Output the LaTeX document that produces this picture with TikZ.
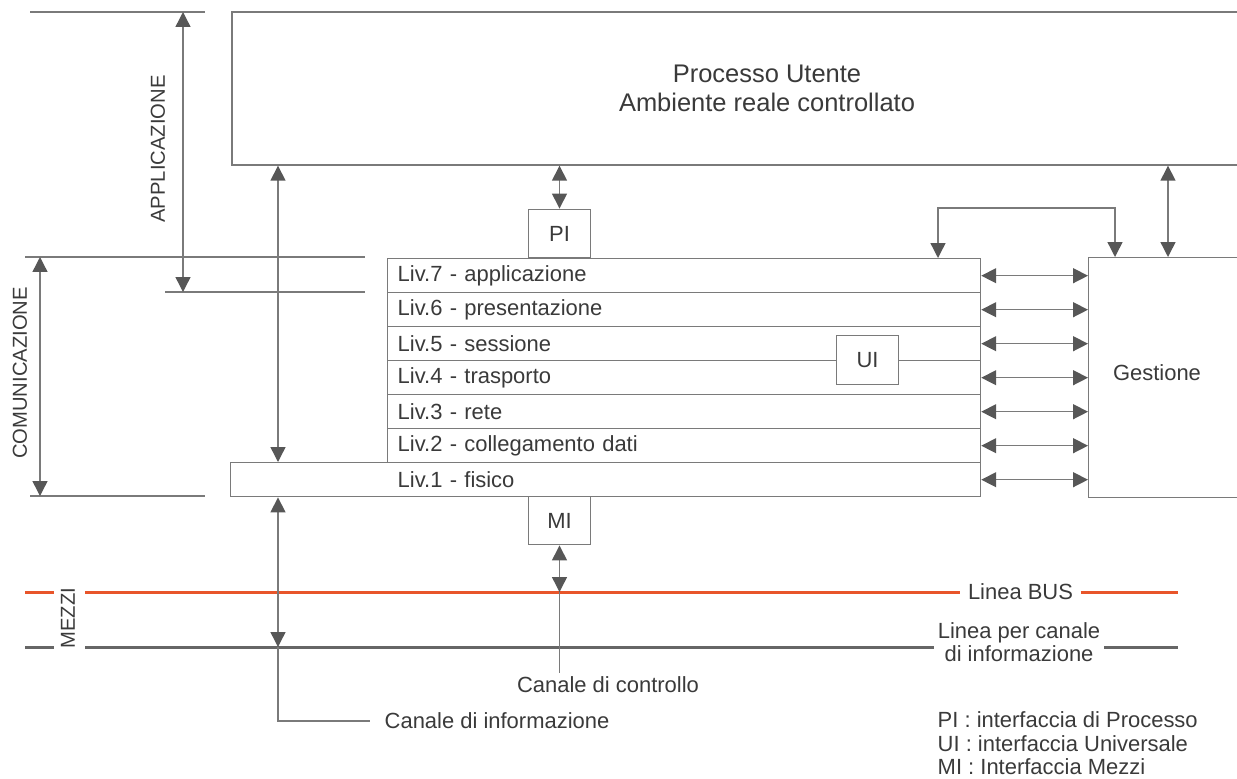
\documentclass[tikz,border=0pt]{standalone}
\usepackage{fontspec}
\setmainfont{Liberation Sans}
\usetikzlibrary{arrows.meta, positioning, calc}
\definecolor{cgrey}{HTML}{7A7A7A}
\definecolor{ctip}{HTML}{575757}
\definecolor{cdark}{HTML}{3A3A3A}
\definecolor{cbus}{HTML}{E8552A}
\definecolor{cline}{HTML}{666666}
\tikzset{
  every picture/.style={line width=0.8pt},
  frame/.style={draw=cgrey, fill=white, inner sep=0pt},
  layer/.style={frame, anchor=north west, minimum height=0.68cm, text width=11.46cm, inner xsep=0.2cm, align=left, font=\fontsize{12.5}{14}\selectfont, text=cdark},
  iface/.style={frame, minimum width=1.24cm, minimum height=0.97cm, font=\fontsize{12.5}{14}\selectfont, text=cdark},
  arrow/.style={{Triangle[length=8.5pt, width=8.5pt, color=ctip]}-{Triangle[length=8.5pt, width=8.5pt, color=ctip]}, draw=cgrey},
  note/.style={font=\fontsize{12.5}{13.3}\selectfont, text=cdark, inner sep=0pt},
  dimlabel/.style={font=\fontsize{11.5}{13}\selectfont, text=cdark, rotate=90, inner sep=0pt},
  medium/.style={line width=1.7pt},
}

\begin{document}
\begin{tikzpicture}[x=0.02cm, y=-0.02cm]
  \useasboundingbox (0,0) rectangle (1237,778);
  \clip (0,0) rectangle (1237,778);
  % user process, open to the right
  \node[frame, minimum width=21.4cm, minimum height=3.06cm, align=center, font=\fontsize{14.5}{16.4}\selectfont, text=cdark] (proc) at (767,88.5) {Processo Utente\\Ambiente reale controllato};
  % management block
  \node[frame, anchor=north west, minimum width=4cm, minimum height=4.8cm] (ges) at (1088,257) {};
  \node[note] (gestxt) at (1157,373) {Gestione};
  % the seven levels
  \node[frame, anchor=north west, minimum width=15cm, minimum height=0.68cm] (fis) at (230,462) {};
  \foreach \n/\t [count=\i from 0] in {7/applicazione, 6/presentazione, 5/sessione, 4/trasporto, 3/rete, 2/collegamento dati}
    \node[layer] (l\n) at (387,258+34*\i) {Liv.\n{} - \t};
  \node[layer, draw=none, fill=none] (l1) at (387,462) {Liv.1 - fisico};
  \foreach \n in {7,...,1} \draw[arrow] (l\n.east -| fis.east) -- (l\n.east -| ges.west);
  % interfaces
  \node[iface] (pi) at (559.5,233.5) {PI};
  \node[iface] (ui) at (867.5,360) {UI};
  \node[iface] (mi) at (559.5,520.5) {MI};
  \draw[arrow] (pi.north) -- (pi.north |- proc.south);
  % management links
  \coordinate (bl) at (938,208);
  \coordinate (br) at (1115,208);
  \coordinate (gtop) at (1168,0);
  \draw[arrow] (bl |- l7.north) -- (bl) -- (br) -- (br |- ges.north);
  \draw[arrow] (gtop |- ges.north) -- (gtop |- proc.south);
  % dimension marks
  \draw[cgrey] (30,12) -- (205,12) (25,257) -- (365,257) (165,292) -- (365,292) (30,496) -- (205,496);
  \coordinate (appT) at (183,12);
  \coordinate (appB) at (183,292);
  \coordinate (comT) at (40,257);
  \coordinate (comB) at (40,496);
  \draw[arrow] (appT) -- (appB);
  \draw[arrow] (comT) -- (comB);
  \node[dimlabel] (app) at (158,149) {APPLICAZIONE};
  \node[dimlabel] (com) at (20,373) {COMUNICAZIONE};
  \node[dimlabel] (mez) at (68,618) {MEZZI};
  % media lines
  \coordinate (busL) at (85,592);
  \coordinate (infL) at (85,647);
  \node[note, inner xsep=4pt] (bus) at (1020.5,592) {Linea BUS};
  \node[note, inner xsep=2pt, align=center] (chan) at (1019,642) {Linea per canale\\di informazione};
  \draw[cbus, medium] (25,592) -- (54,592) (busL) -- (bus.west) (bus.east) -- (1178,592);
  \draw[cline, medium] (25,647) -- (54,647) (infL) -- (chan.west |- infL) (chan.east |- infL) -- (1178,647);
  % information channel
  \coordinate (ci) at (278,0);
  \node[note, anchor=west] (info) at (384,721) {Canale di informazione};
  \draw[arrow] (ci |- proc.south) -- (ci |- fis.north);
  \draw[arrow] (ci |- fis.south) -- (ci |- infL);
  \draw[cgrey] (ci |- infL) |- ([xshift=-8pt]info.west);
  % control channel
  \node[note] (ctrl) at (608,685) {Canale di controllo};
  \draw[arrow] (mi.south) -- (mi.south |- busL);
  \draw[cgrey] (mi.south |- busL) -- ([yshift=2pt]mi.south |- ctrl.north);
  % legend
  \node[note, align=left, anchor=west] (legend) at (937,743.5) {PI : interfaccia di Processo\\UI : interfaccia Universale\\MI : Interfaccia Mezzi};
\end{tikzpicture}
\end{document}
